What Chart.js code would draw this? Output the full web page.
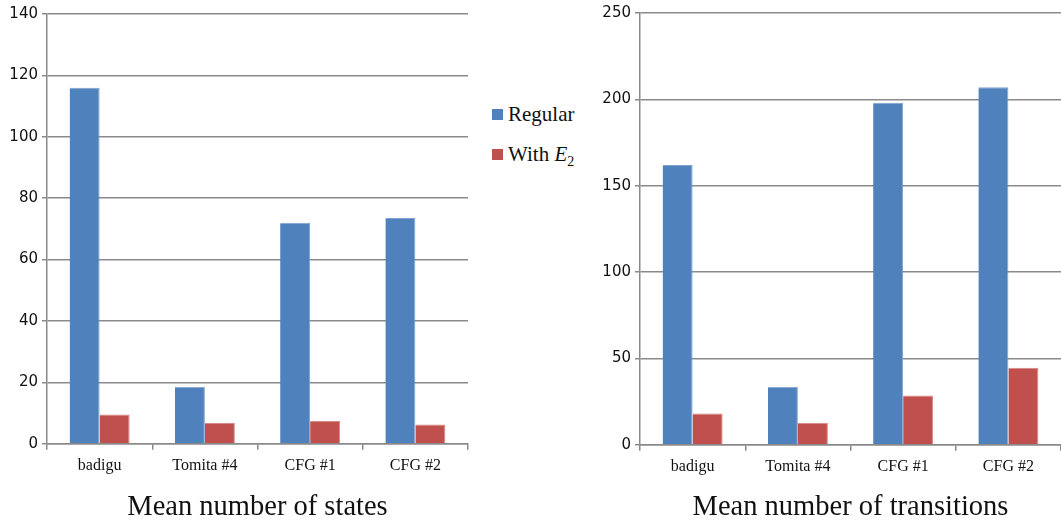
<!DOCTYPE html>
<html lang="en">
<head>
    <meta charset="UTF-8">
    <title>Mean number of states / transitions</title>
    <style>
        body {
            margin: 0;
            background: #fff;
            width: 1061px;
            height: 523px;
            position: relative;
            overflow: hidden;
        }
        .box {
            position: absolute;
            top: 0;
            height: 523px;
        }
        #leftBox { left: 0; width: 480px; }
        #rightBox { left: 590px; width: 471px; }
        #legend {
            position: absolute;
            left: 492px;
            top: 98px;
            font-family: "Liberation Serif", serif;
            font-size: 21px;
            color: #111;
        }
        #legend div {
            height: 40px;
            line-height: 32px;
            white-space: nowrap;
        }
        #legend span.sw {
            display: inline-block;
            width: 11px;
            height: 11px;
            margin-right: 5px;
            vertical-align: 1px;
        }
        #legend sub { font-size: 14px; }
    </style>
    <script src="https://cdn.jsdelivr.net/npm/chart.js"></script>
</head>
<body>
    <div class="box" id="leftBox"><canvas id="statesChart"></canvas></div>
    <div id="legend"></div>
    <div class="box" id="rightBox"><canvas id="transChart"></canvas></div>

    <script>
        // data
        const categories = ['badigu', 'Tomita #4', 'CFG #1', 'CFG #2'];
        const seriesNames = ['Regular', 'With E2'];
        const statesRegular = [116, 18.5, 72, 73.5];
        const statesE2 = [9.5, 6.7, 7.4, 6.2];
        const transRegular = [162, 33.5, 198, 207];
        const transE2 = [18, 12.7, 28.5, 44.5];

        const blue = '#4F81BD';
        const red = '#C0504D';
        const gridColor = '#8a8a8a';

        function makeChart(id, title, regular, e2, maxY, step, axisWidth, pad, titleTop) {
            return new Chart(document.getElementById(id), {
                type: 'bar',
                data: {
                    labels: categories,
                    datasets: [
                        { label: seriesNames[0], data: regular, backgroundColor: blue, borderColor: '#7fa3d0', borderWidth: { top: 1, left: 0, right: 1, bottom: 0 } },
                        { label: seriesNames[1], data: e2, backgroundColor: red, borderColor: '#d98986', borderWidth: { top: 1, left: 0, right: 1, bottom: 0 } }
                    ]
                },
                options: {
                    responsive: true,
                    maintainAspectRatio: false,
                    animation: false,
                    datasets: { bar: { categoryPercentage: 0.57, barPercentage: 1.0 } },
                    layout: { padding: pad },
                    plugins: {
                        legend: { display: false },
                        tooltip: { enabled: false },
                        title: {
                            display: true,
                            position: 'bottom',
                            fullSize: false,
                            text: title,
                            color: '#111',
                            font: { family: 'Liberation Serif', size: 28.5, weight: 'normal', lineHeight: 1.1 },
                            padding: { top: titleTop, bottom: 0 }
                        }
                    },
                    scales: {
                        x: {
                            grid: { offset: true, drawOnChartArea: false, tickLength: 6, color: gridColor, lineWidth: 1.5 },
                            border: { color: gridColor, width: 1.5 },
                            ticks: { color: '#111', padding: 7, font: { family: 'Liberation Serif', size: 16 } },
                            afterFit: s => { s.height = 34; }
                        },
                        y: {
                            min: 0,
                            max: maxY,
                            ticks: { stepSize: step, color: '#111', padding: 4, font: { family: 'DejaVu Sans', size: 15 } },
                            grid: { color: gridColor, lineWidth: 1.5, tickLength: 5 },
                            border: { color: gridColor, width: 1.5 },
                            afterFit: s => { s.width = axisWidth; }
                        }
                    }
                }
            });
        }

        const c1 = makeChart('statesChart', 'Mean number of states', statesRegular, statesE2, 140, 20, 47, { top: 14, right: 12, left: 0, bottom: 0 }, 14);
        makeChart('transChart', 'Mean number of transitions', transRegular, transE2, 250, 50, 50, { top: 11, right: 0, left: 0, bottom: 0 }, 13);

        // legend built from the chart's datasets
        const legend = document.getElementById('legend');
        c1.data.datasets.forEach((ds, i) => {
            const row = document.createElement('div');
            const label = i === 1 ? 'With <i>E</i><sub>2</sub>' : ds.label;
            row.innerHTML = '<span class="sw" style="background:' + ds.backgroundColor + '"></span>' + label;
            legend.appendChild(row);
        });
    </script>
</body>
</html>
